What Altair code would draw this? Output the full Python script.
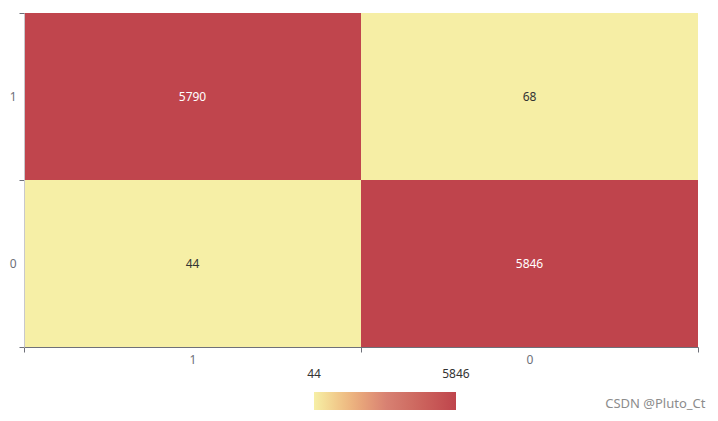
import altair as alt
import pandas as pd

x_cats = ["1", "0", "1", "0"]
y_cats = ["1", "1", "0", "0"]
values = [5790, 68, 44, 5846]
x_order = ["1", "0"]
y_order = ["1", "0"]
color_stops = ["#f6efa6", "#d88273", "#bf444c"]
legend_values = [44, 5846]

df = pd.DataFrame({"x": x_cats, "y": y_cats, "v": values})
vmin, vmax = min(values), max(values)

FONT = "Noto Sans"
AXIS_COLOR = "#6e7079"

base = alt.Chart(df)

rect = base.mark_rect(strokeWidth=0).encode(
    x=alt.X("x:N", sort=x_order, title=None,
            scale=alt.Scale(paddingInner=0, paddingOuter=0),
            axis=alt.Axis(labelAngle=0, tickBand="extent", domainColor=AXIS_COLOR,
                          tickColor=AXIS_COLOR, tickSize=5, labelPadding=2,
                          labelColor=AXIS_COLOR, labelFontSize=12, labelFont=FONT,
                          grid=False)),
    y=alt.Y("y:N", sort=y_order, title=None,
            scale=alt.Scale(paddingInner=0, paddingOuter=0),
            axis=alt.Axis(tickBand="extent", domainColor="#c8c8cc",
                          tickColor=AXIS_COLOR, tickSize=5, labelPadding=3,
                          labelColor=AXIS_COLOR, labelFontSize=12, labelFont=FONT,
                          grid=False)),
    color=alt.Color("v:Q",
                    scale=alt.Scale(domain=[vmin - 1, vmax + 1], range=color_stops),
                    legend=alt.Legend(orient="none", direction="horizontal",
                                      legendX=290, legendY=379, title=None,
                                      values=legend_values, format="d",
                                      gradientLength=142, gradientThickness=18,
                                      gradientStrokeWidth=0,
                                      labelOffset={"expr": "-41"},
                                      labelColor="#333333", labelFontSize=12,
                                      labelFont=FONT, labelOverlap=False)),
)

text = base.mark_text(fontSize=12, font=FONT).encode(
    x=alt.X("x:N", sort=x_order),
    y=alt.Y("y:N", sort=y_order),
    text=alt.Text("v:Q", format="d"),
    color=alt.condition(alt.datum.v > (vmin + vmax) / 2,
                        alt.value("#ffffff"), alt.value("#333333")),
)

chart = (rect + text).properties(
    width=674, height=334,
    autosize=alt.AutoSizeParams(type="none"),
    padding={"left": 16, "top": 5, "right": 12, "bottom": 66},
    title=alt.TitleParams("CSDN @Pluto_Ct", orient="bottom", anchor="end",
                          offset=1, dx=7, dy=-13, fontSize=13, fontWeight="normal",
                          font=FONT, color="#8c8c8c"),
).configure_view(stroke=None)

chart.save("out.html", embed_options={"renderer": "svg", "actions": False})
